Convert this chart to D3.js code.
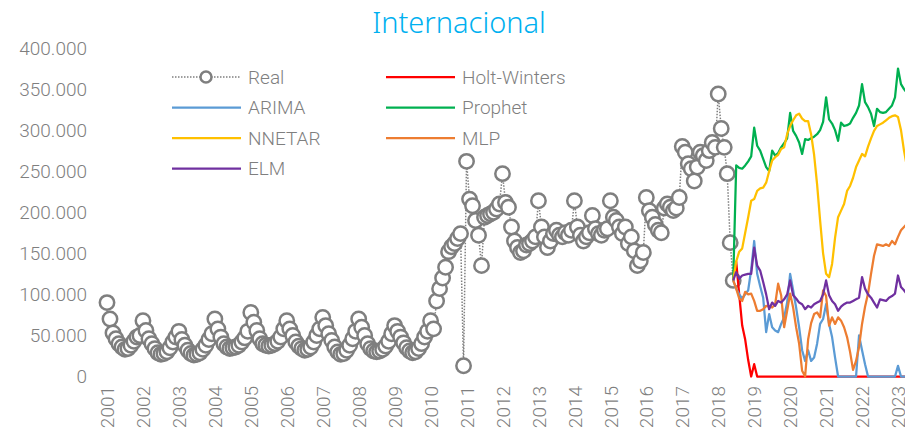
<!DOCTYPE html>
<html>
<head>
<meta charset="utf-8">
<script src="https://cdn.jsdelivr.net/npm/d3@7"></script>
<style>
  body { margin: 0; background: #fff; }
  text { font-family: Roboto, "Noto Sans", sans-serif; }
</style>
</head>
<body>
<div id="chart"></div>
<script>
// Internacional - monthly values (thousands), real data from Jan 2001
const years = ["2001","2002","2003","2004","2005","2006","2007","2008","2009","2010","2011","2012",
               "2013","2014","2015","2016","2017","2018","2019","2020","2021","2022","2023"];
const yTicks = [0, 50, 100, 150, 200, 250, 300, 350, 400];

const real = [
  90,70,53,46,40,36,33,34,38,43,48,50,
  68,56,46,40,34,29,27,28,30,35,42,48,
  55,45,38,32,28,26,27,29,33,38,45,52,
  70,58,48,40,36,34,35,36,38,42,47,55,
  78,66,56,46,40,38,37,38,40,43,48,58,
  68,58,50,42,37,34,32,33,36,42,50,58,
  72,62,52,44,36,30,27,28,32,38,46,55,
  70,60,50,40,34,31,30,31,33,37,43,52,
  62,55,48,41,35,31,29,30,34,40,48,55,
  68,58,92,107,120,133,152,158,162,168,174,13,
  262,216,208,190,172,135,194,196,198,200,204,210,
  247,212,206,182,165,157,151,153,160,162,165,170,
  214,182,170,157,165,174,178,172,170,175,172,178,
  214,182,172,165,170,175,196,180,174,172,178,180,
  214,194,190,182,174,182,162,170,153,135,141,151,
  218,202,194,185,178,175,205,210,206,202,205,218,
  280,273,259,253,238,255,273,269,263,275,285,279,
  344,302,279,247,163,117
];

// forecasts start at the last real month (index 209)
const forecastStart = 209;
const holtWinters = [
  117,140,100,62,45,20,0,15,0,0,
  0,0,0,0,0,0,0,0,0,0,
  0,0,0,0,0,0,0,0,0,0,
  0,0,0,0,0,0,0,0,0,0,
  0,0,0,0,0,0,0,0,0,0,
  0,0,0,0,0,0,0,0,0
];
const arima = [
  117,107,100,95,100,105,130,165,125,110,
  96,54,76,60,56,54,64,72,90,125,
  105,84,60,32,19,32,19,23,40,64,
  70,88,64,48,23,0,0,0,0,0,
  0,0,50,32,15,0,0,0,0,0,
  0,0,0,0,0,13,0,0,0
];
const prophet = [
  117,257,254,253,257,262,268,303,281,275,
  265,255,250,275,269,272,279,284,290,321,
  299,293,285,271,289,288,290,292,295,300,
  310,340,313,308,300,287,309,305,306,308,
  315,321,330,356,334,328,320,305,326,322,
  321,322,326,330,340,375,356,350,345
];
const nnetar = [
  117,140,152,156,175,194,214,216,226,229,
  230,236,250,263,267,270,277,279,295,305,
  312,318,320,314,311,311,295,270,234,190,
  150,125,121,137,169,194,202,210,226,232,
  242,255,263,271,268,280,290,299,305,307,
  309,312,315,317,318,316,300,275,255
];
const mlp = [
  117,107,95,92,103,100,101,92,80,80,
  82,86,85,84,88,113,99,60,80,101,
  84,60,40,7,0,45,65,76,78,72,
  105,98,62,72,64,72,68,60,48,30,
  8,19,36,64,85,101,125,147,161,160,
  159,161,159,165,161,170,178,182,186
];
const elm = [
  117,127,119,123,124,125,125,157,135,129,
  115,100,82,90,86,92,90,94,100,117,
  99,95,90,88,82,86,84,88,90,92,
  100,117,99,92,88,80,85,88,90,90,
  92,94,96,121,107,100,96,90,84,94,
  93,92,96,98,101,123,109,105,100
];

const forecasts = [
  { name: "Holt-Winters", values: holtWinters, color: "#ff0000" },
  { name: "ARIMA",        values: arima,       color: "#5b9bd5" },
  { name: "Prophet",      values: prophet,     color: "#00b050" },
  { name: "NNETAR",       values: nnetar,      color: "#ffc000" },
  { name: "MLP",          values: mlp,         color: "#ed7d31" },
  { name: "ELM",          values: elm,         color: "#7030a0" }
];

const width = 905, height = 436;
const gray = "#7f7f7f";

const svg = d3.select("#chart").append("svg")
  .attr("width", width).attr("height", height)
  .style("display", "block");

const x = d3.scaleLinear().domain([0, 264]).range([107, 898]);
const y = d3.scaleLinear().domain([0, 400]).range([376.5, 48]);

const loc = d3.formatLocale({ decimal: ",", thousands: ".", grouping: [3], currency: ["", ""] });
const fmt = loc.format(",");

// title
svg.append("text")
  .attr("x", 459).attr("y", 33)
  .attr("text-anchor", "middle")
  .style("font-family", "'Noto Sans', sans-serif")
  .style("font-size", "29px")
  .style("font-weight", 300)
  .attr("fill", "#00b0f0")
  .text("Internacional");

// y axis labels
const yAxis = svg.append("g")
  .attr("transform", "translate(87,0)")
  .call(d3.axisLeft(y).tickValues(yTicks).tickSize(0).tickPadding(0).tickFormat(d => fmt(d * 1000)));
yAxis.select(".domain").remove();
yAxis.selectAll("text")
  .attr("fill", gray)
  .style("font-size", "19px")
  .style("font-weight", 300);

// x axis labels (one per year, every 12 months)
const xAxis = svg.append("g")
  .attr("transform", "translate(0,386)")
  .call(d3.axisBottom(x).tickValues(years.map((d, i) => i * 12)).tickSize(0)
    .tickFormat((d, i) => years[i]));
xAxis.select(".domain").remove();
xAxis.selectAll("text")
  .attr("fill", gray)
  .style("font-size", "19px")
  .style("font-weight", 300)
  .attr("text-anchor", "end")
  .attr("dy", "0.35em")
  .attr("transform", "rotate(-90)")
  .attr("x", 0).attr("y", 0);

// real series: dotted connector + open circles
const realLine = d3.line().x((d, i) => x(i)).y(d => y(d));
svg.append("path")
  .datum(real)
  .attr("d", realLine)
  .attr("fill", "none")
  .attr("stroke", gray)
  .attr("stroke-width", 1.5)
  .attr("stroke-dasharray", "1.5,1.5");
svg.append("g").selectAll("circle")
  .data(real)
  .join("circle")
  .attr("cx", (d, i) => x(i))
  .attr("cy", d => y(d))
  .attr("r", 7.2)
  .attr("fill", "#fff")
  .attr("stroke", gray)
  .attr("stroke-width", 2.5);

// forecast lines
const fcLine = d3.line().x((d, i) => x(forecastStart + i)).y(d => y(d));
forecasts.forEach(s => {
  svg.append("path")
    .datum(s.values)
    .attr("d", fcLine)
    .attr("fill", "none")
    .attr("stroke", s.color)
    .attr("stroke-width", 2.25)
    .attr("stroke-linejoin", "round");
});

// legend
const legendItems = [
  { name: "Real", col: 0, row: 0 },
  { name: "ARIMA", col: 0, row: 1 },
  { name: "NNETAR", col: 0, row: 2 },
  { name: "ELM", col: 0, row: 3 },
  { name: "Holt-Winters", col: 1, row: 0 },
  { name: "Prophet", col: 1, row: 1 },
  { name: "MLP", col: 1, row: 2 }
];
const legend = svg.append("g");
legendItems.forEach(it => {
  const lx = it.col === 0 ? 172 : 386;
  const ly = 77 + it.row * 30.5;
  const g = legend.append("g").attr("transform", `translate(${lx},${ly})`);
  if (it.name === "Real") {
    g.append("line").attr("x1", 0).attr("x2", 68).attr("y1", 0).attr("y2", 0)
      .attr("stroke", gray).attr("stroke-width", 1.5).attr("stroke-dasharray", "1.5,1.5");
    g.append("circle").attr("cx", 34).attr("cy", 0).attr("r", 5.5)
      .attr("fill", "#fff").attr("stroke", gray).attr("stroke-width", 2.5);
  } else {
    const s = forecasts.find(f => f.name === it.name);
    g.append("line").attr("x1", 0).attr("x2", 69).attr("y1", 0).attr("y2", 0)
      .attr("stroke", s.color).attr("stroke-width", 2.25);
  }
  g.append("text").attr("x", 76).attr("y", 0).attr("dy", "0.35em")
    .attr("fill", gray)
    .style("font-size", "19px")
    .style("font-weight", 300)
    .text(it.name);
});
</script>
</body>
</html>
